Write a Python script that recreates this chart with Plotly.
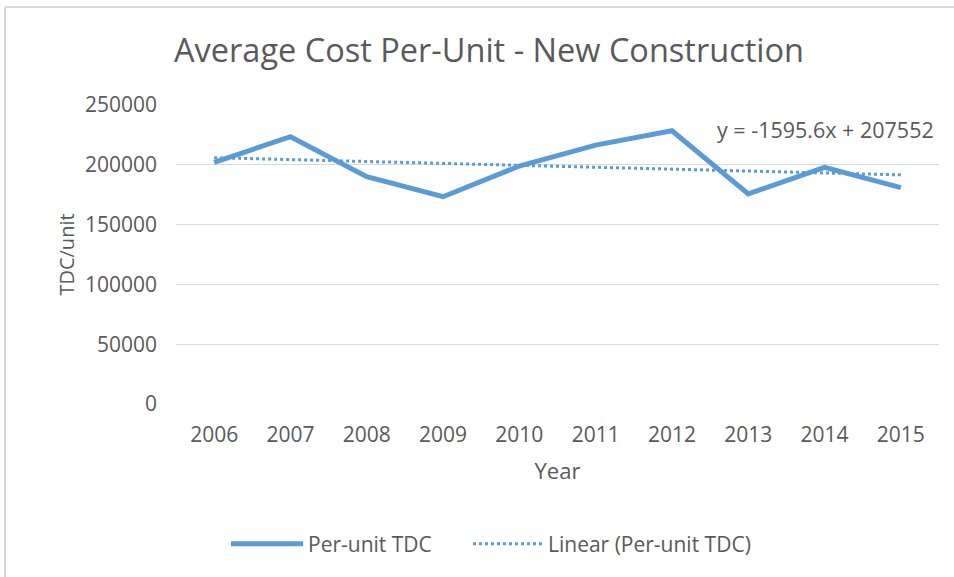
import plotly.graph_objects as go

years = ["2006", "2007", "2008", "2009", "2010", "2011", "2012", "2013", "2014", "2015"]
tdc_per_unit = [202000, 223500, 190000, 173300, 199000, 216500, 228500, 175600, 197900, 180900]
trend_slope = -1595.6
trend_intercept = 207552
y_ticks = [0, 50000, 100000, 150000, 200000, 250000]

trend = [trend_intercept + trend_slope * (i + 1) for i in range(len(years))]

W, H = 954, 577
L, R, T, B = 176, 15, 105, 173
pw, ph = W - L - R, H - T - B

font = "Open Sans, Segoe UI, sans-serif"
txt = "#595959"
blue = "#5B9BD5"

fig = go.Figure()
fig.add_trace(go.Scatter(x=years, y=tdc_per_unit, mode="lines", name="Per-unit TDC",
                         line=dict(color=blue, width=5), legend="legend"))
fig.add_trace(go.Scatter(x=years, y=trend, mode="lines", name="Linear (Per-unit TDC)",
                         line=dict(color=blue, width=3, dash="dot"), legend="legend2"))

def px(x):
    return (x - L) / pw

def py(y):
    return (H - B - y) / ph

leg_common = dict(orientation="h", yanchor="middle", y=py(544), xanchor="left",
                  font=dict(size=21, color=txt), bgcolor="rgba(0,0,0,0)")

fig.update_layout(
    width=W, height=H,
    margin=dict(l=L, r=R, t=T, b=B),
    paper_bgcolor="white", plot_bgcolor="white",
    font=dict(family=font, color=txt, size=21),
    title=dict(text="Average Cost Per-Unit - New Construction", x=489 / W, xanchor="center",
               y=1 - 51 / H, yanchor="middle", font=dict(size=32.5, color=txt)),
    xaxis=dict(type="category", range=[-0.5, 9.5], showgrid=False, showline=False,
               ticks="", ticklabelstandoff=16, tickfont=dict(size=21, color=txt),
               title=dict(text="Year", font=dict(size=22, color=txt), standoff=16)),
    yaxis=dict(range=[0, 250000], tickvals=y_ticks, ticktext=[str(v) for v in y_ticks],
               showgrid=True, gridcolor="#D9D9D9", gridwidth=1, zeroline=False,
               showline=False, ticks="", ticklen=0, ticklabelstandoff=18,
               tickfont=dict(size=21, color=txt),
               title=dict(text="TDC/unit", font=dict(size=20, color=txt), standoff=4)),
    legend=dict(x=px(226), itemwidth=72, **leg_common),
    legend2=dict(x=px(468), itemwidth=70, **leg_common),
    showlegend=True,
)

fig.add_annotation(text="y = -1595.6x + 207552", xref="paper", yref="paper",
                   x=px(936), y=py(129), xanchor="right", yanchor="middle",
                   showarrow=False, font=dict(size=21.5, color=txt))

fig.add_shape(type="line", xref="paper", yref="paper", x0=px(5), x1=px(5), y0=py(7), y1=py(577),
              line=dict(color="#D9D9D9", width=2))
fig.add_shape(type="line", xref="paper", yref="paper", x0=px(5), x1=px(954), y0=py(7), y1=py(7),
              line=dict(color="#D9D9D9", width=2))

fig.write_html("out.html", config={"displayModeBar": False},
               post_script="document.body.style.margin='0px';document.body.style.overflow='hidden';")
